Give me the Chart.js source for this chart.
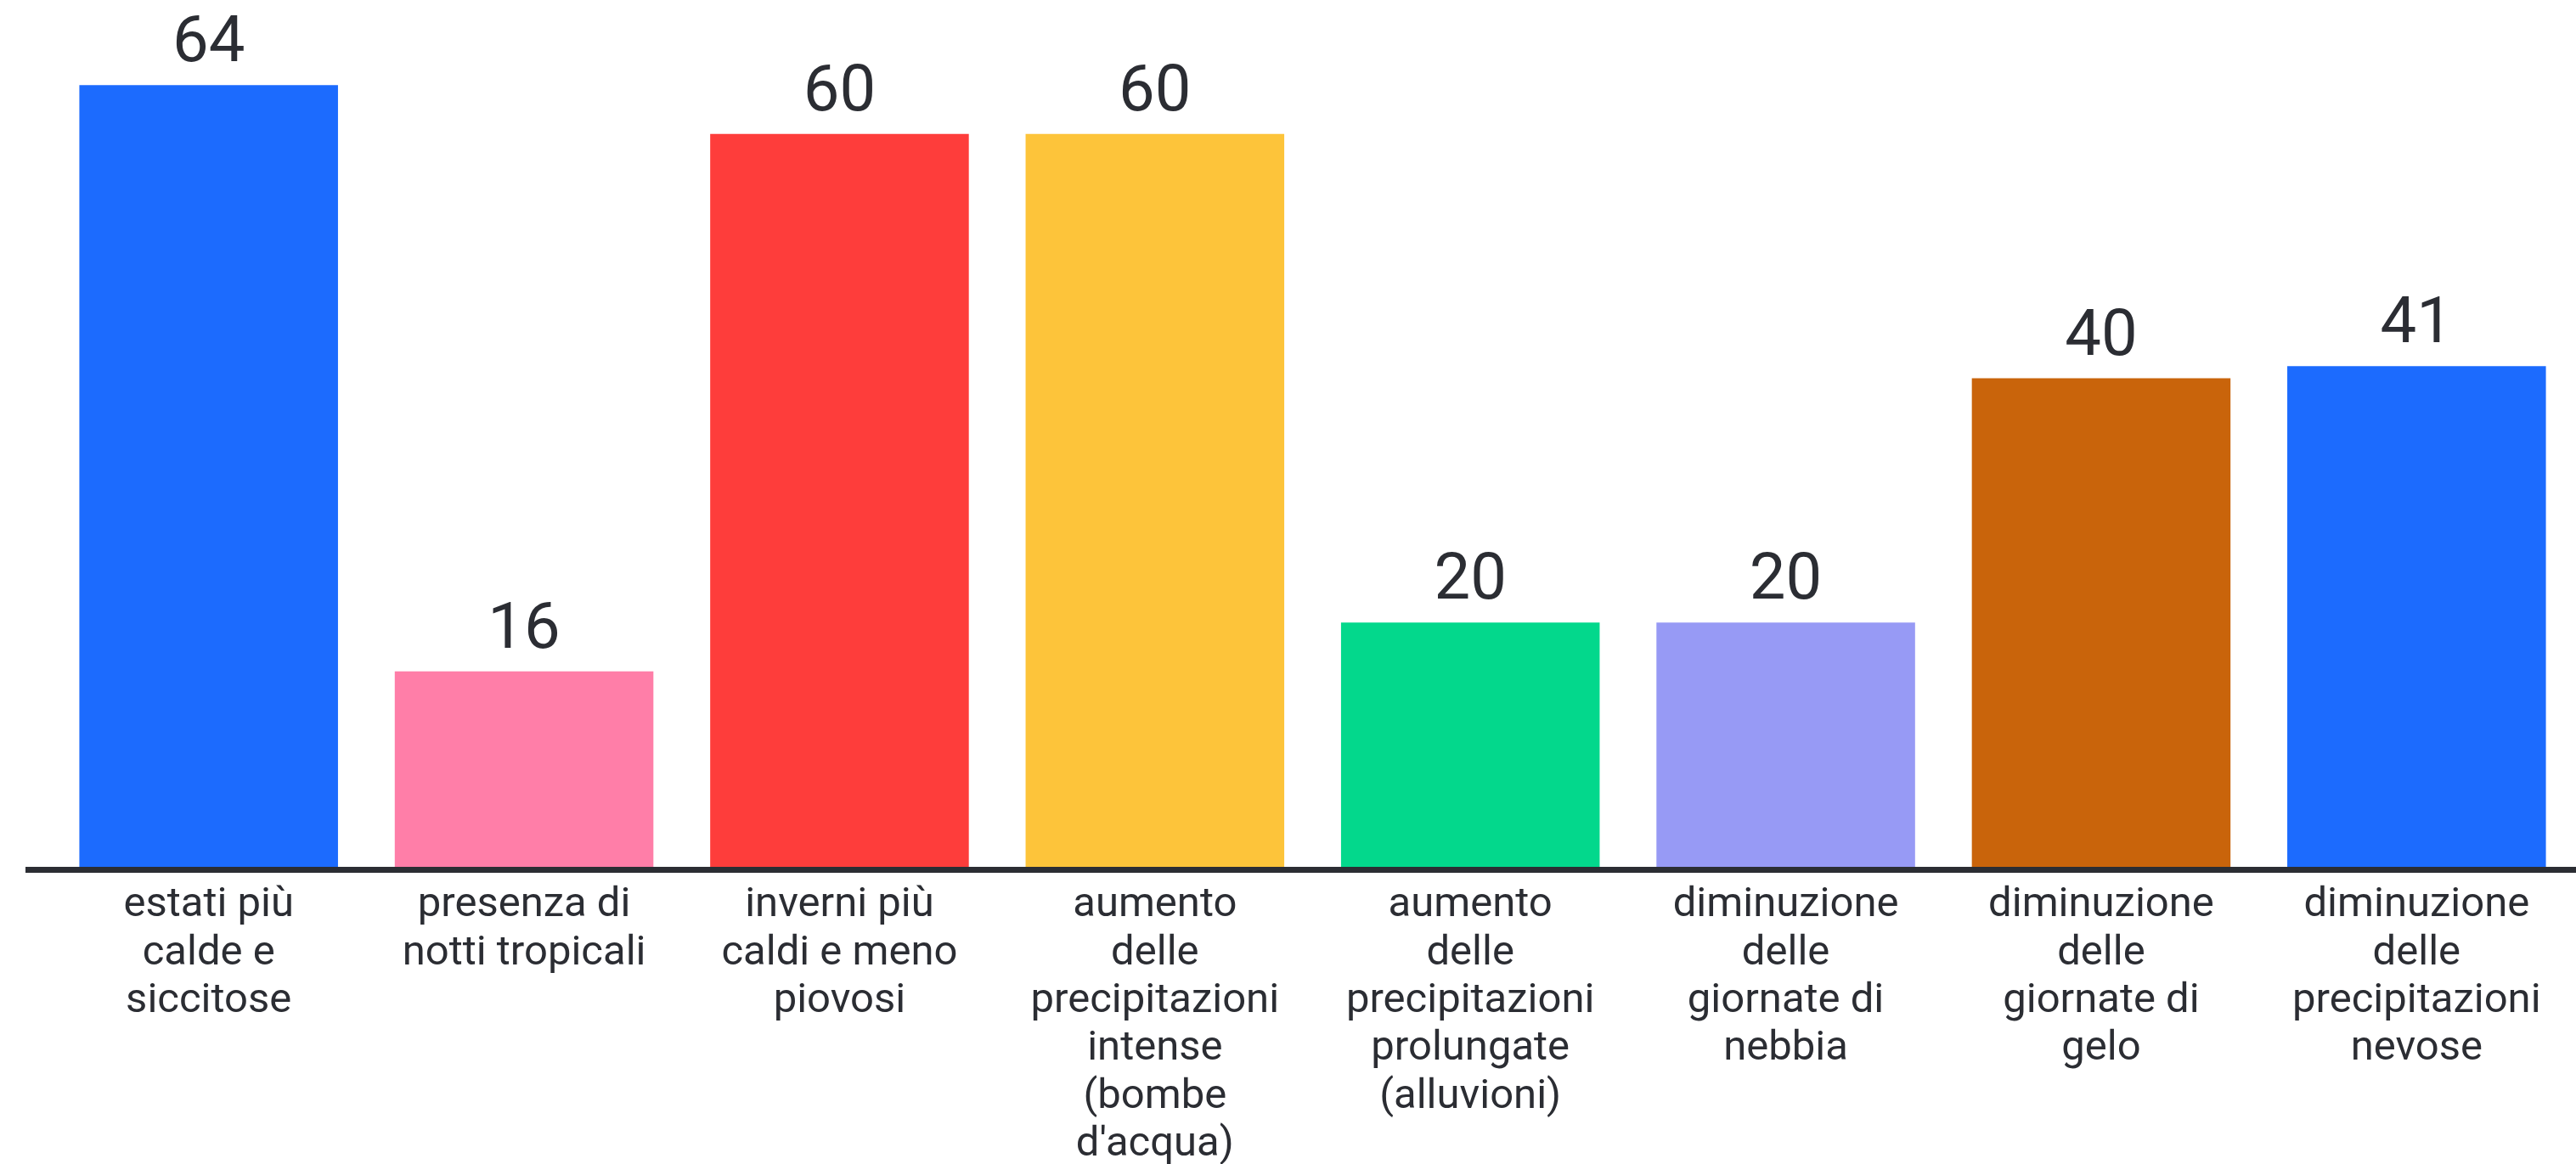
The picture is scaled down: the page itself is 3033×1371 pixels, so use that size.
<!DOCTYPE html>
<html>
<head>
<meta charset="utf-8">
<script src="https://cdn.jsdelivr.net/npm/chart.js@4.4.1/dist/chart.umd.min.js"></script>
<style>
  html, body { margin: 0; padding: 0; background: #ffffff; }
  .canvas-container { position: relative; width: 3033px; height: 1371px; }
</style>
</head>
<body>
<div class="canvas-container">
  <canvas id="climateBarChart" role="img" aria-label="Bar Chart"></canvas>
</div>
<script>
// categories (multi-line labels, as in the picture)
const categories = [
  ['estati più', 'calde e', 'siccitose'],
  ['presenza di', 'notti tropicali'],
  ['inverni più', 'caldi e meno', 'piovosi'],
  ['aumento', 'delle', 'precipitazioni', 'intense', '(bombe', "d'acqua)"],
  ['aumento', 'delle', 'precipitazioni', 'prolungate', '(alluvioni)'],
  ['diminuzione', 'delle', 'giornate di', 'nebbia'],
  ['diminuzione', 'delle', 'giornate di', 'gelo'],
  ['diminuzione', 'delle', 'precipitazioni', 'nevose'],
];
const values = [64, 16, 60, 60, 20, 20, 40, 41];
const barColors = [
  '#1c6bfe', '#ff7ea8', '#fe3d3b', '#fdc43a',
  '#03d88c', '#979af5', '#c9640b', '#1c6bfe',
];

const textColor = '#2b2d33';

// value on top of each bar
const valueLabels = {
  id: 'valueLabels',
  afterDatasetsDraw(chart) {
    const ctx = chart.ctx;
    const meta = chart.getDatasetMeta(0);
    ctx.save();
    ctx.font = '76px Roboto';
    ctx.fillStyle = textColor;
    ctx.textAlign = 'center';
    ctx.textBaseline = 'alphabetic';
    meta.data.forEach((bar, i) => {
      ctx.fillText(String(values[i]), bar.x, bar.y - 28);
    });
    ctx.restore();
  },
};

// thick baseline, runs a bit past the left of the plot
const baseLine = {
  id: 'baseLine',
  afterDatasetsDraw(chart) {
    const ctx = chart.ctx;
    const y = chart.scales.y.getPixelForValue(0);
    ctx.save();
    ctx.strokeStyle = textColor;
    ctx.lineWidth = 7;
    ctx.beginPath();
    ctx.moveTo(30, y + 3.5);
    ctx.lineTo(chart.width, y + 3.5);
    ctx.stroke();
    ctx.restore();
  },
};

const ctx = document.getElementById('climateBarChart');

new Chart(ctx, {
  type: 'bar',
  data: {
    labels: categories,
    datasets: [
      {
        data: values,
        backgroundColor: barColors,
        borderWidth: 0,
        categoryPercentage: 1,
        barPercentage: 0.82,
      },
    ],
  },
  options: {
    responsive: true,
    maintainAspectRatio: false,
    animation: false,
    layout: {
      padding: { left: 60, right: 2, top: 14, bottom: 0 },
    },
    plugins: {
      legend: { display: false },
      title: { display: false },
      tooltip: { enabled: false },
    },
    scales: {
      x: {
        grid: { display: false, drawTicks: false },
        border: { display: false },
        ticks: {
          color: textColor,
          font: { family: 'Roboto', size: 49, lineHeight: 1.15 },
          maxRotation: 0,
          autoSkip: false,
          padding: 18,
        },
        afterFit: scale => {
          scale.height = 350;
        },
      },
      y: {
        display: false,
        min: 0,
        max: 70,
      },
    },
  },
  plugins: [valueLabels, baseLine],
});
</script>
</body>
</html>
